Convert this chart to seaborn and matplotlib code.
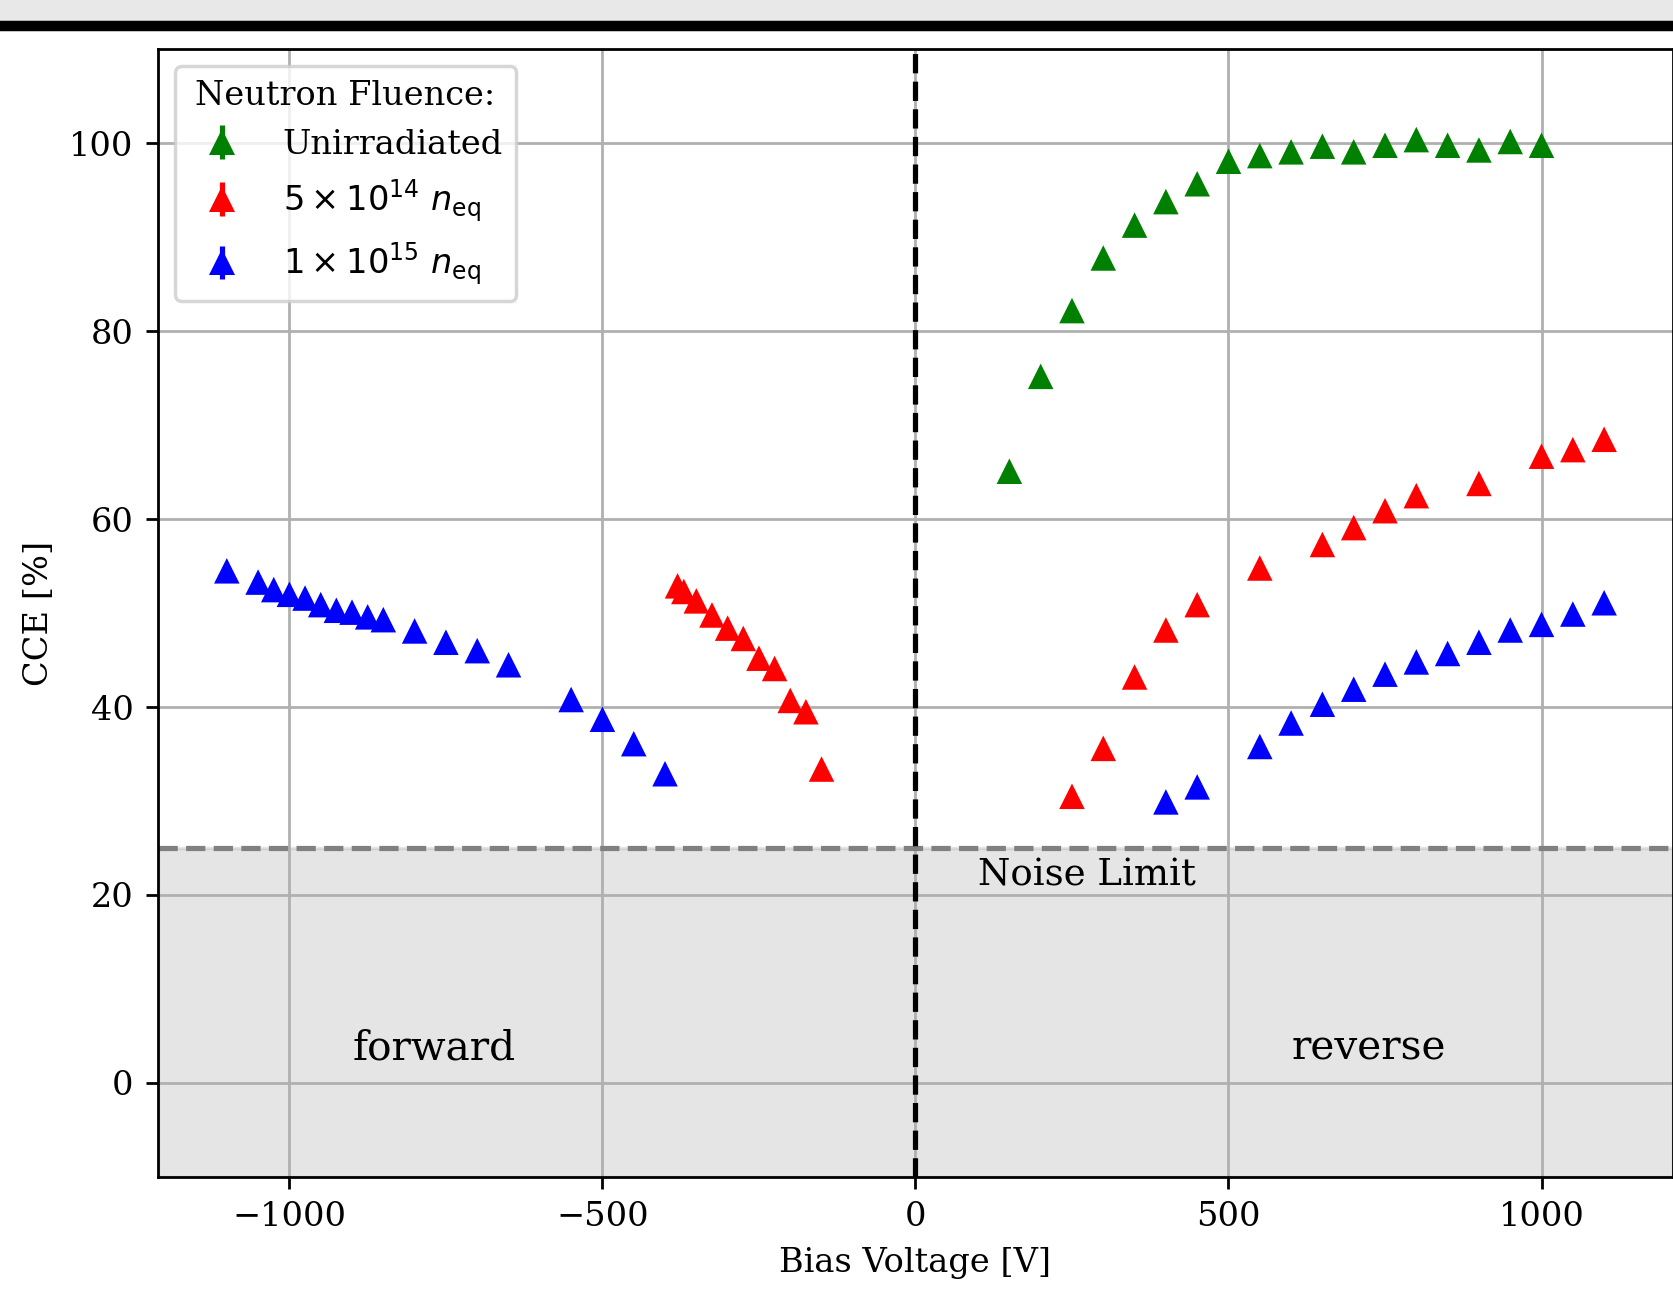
import numpy as np
import pandas as pd
from matplotlib import pyplot as plt
from matplotlib.patches import Rectangle
import seaborn as sns

# CCE values, per fluence
unirr_v = [150, 200, 250, 300, 350, 400, 450, 500, 550, 600, 650, 700, 750, 800, 850, 900, 950, 1000]
unirr_cce = [65.1, 75.2, 82.2, 87.8, 91.3, 93.8, 95.7, 98.1, 98.7, 99.1, 99.7, 99.1, 99.8, 100.4, 99.8, 99.3, 100.2, 99.8]

f5e14_v = [-380, -370, -350, -325, -300, -275, -250, -225, -200, -175, -150,
           250, 300, 350, 400, 450, 550, 650, 700, 750, 800, 900, 1000, 1050, 1100]
f5e14_cce = [52.9, 52.3, 51.3, 49.8, 48.4, 47.3, 45.2, 44.1, 40.7, 39.5, 33.4,
             30.5, 35.6, 43.2, 48.2, 50.9, 54.8, 57.3, 59.1, 60.9, 62.5, 63.8, 66.7, 67.4, 68.5]

f1e15_v = [-1100, -1050, -1025, -1000, -975, -950, -925, -900, -875, -850, -800, -750, -700, -650,
           -550, -500, -450, -400,
           400, 450, 550, 600, 650, 700, 750, 800, 850, 900, 950, 1000, 1050, 1100]
f1e15_cce = [54.5, 53.3, 52.5, 52.0, 51.6, 50.9, 50.3, 50.1, 49.6, 49.3, 48.1, 46.9, 46.0, 44.5,
             40.8, 38.7, 36.1, 32.9,
             29.9, 31.5, 35.8, 38.3, 40.3, 41.9, 43.5, 44.8, 45.7, 46.9, 48.2, 48.8, 49.9, 51.1]

labels = ["Unirradiated", r"$5 \times 10^{14}\ n_\mathrm{eq}$", r"$1 \times 10^{15}\ n_\mathrm{eq}$"]
colors = ["green", "red", "blue"]
noise_limit = 25

df = pd.DataFrame({
    "voltage": unirr_v + f5e14_v + f1e15_v,
    "cce": unirr_cce + f5e14_cce + f1e15_cce,
    "fluence": [labels[0]] * len(unirr_v) + [labels[1]] * len(f5e14_v) + [labels[2]] * len(f1e15_v),
})

plt.rcParams["font.family"] = "serif"
plt.rcParams["font.size"] = 9.7

fig = plt.figure(figsize=(1673 / 250, 1294 / 250), dpi=250)
# grey strip and black rule along the top edge
fig.patches.append(Rectangle((0, 1 - 22 / 1294), 1, 22 / 1294, transform=fig.transFigure,
                             color="#e8e8e8", zorder=-5))
fig.patches.append(Rectangle((0, 1 - 28.5 / 1294), 1, 6.5 / 1294, transform=fig.transFigure,
                             color="black", zorder=-4))

ax = fig.add_axes([0.0944, 0.0906, 0.9056, 0.8712])

sns.scatterplot(data=df, x="voltage", y="cce", hue="fluence", palette=dict(zip(labels, colors)),
                marker="^", s=54, linewidth=0, legend=False, zorder=3, ax=ax)

# legend handles drawn as errorbars
for lab, col in zip(labels, colors):
    ax.errorbar([np.nan], [np.nan], yerr=[0], fmt="^", color=col, ms=7.3, mew=0, label=lab)

ax.axhspan(-10, noise_limit, color="gray", alpha=0.2)
ax.axhline(noise_limit, color="gray", ls="--", lw=1.5)
ax.axvline(0, color="k", ls="--", lw=1.5)

ax.text(100, 21, "Noise Limit", fontsize=10.7)
ax.text(-900, 2.5, "forward", fontsize=11.7)
ax.text(600, 2.5, "reverse", fontsize=11.7)

ax.set_xlim(-1210, 1210)
ax.set_ylim(-10, 110)
ax.grid(True)
ax.set_xlabel("Bias Voltage [V]")
ax.set_ylabel("CCE [%]")
ax.legend(title="Neutron Fluence:", loc="upper left")

fig.savefig("out.png", dpi=250)
